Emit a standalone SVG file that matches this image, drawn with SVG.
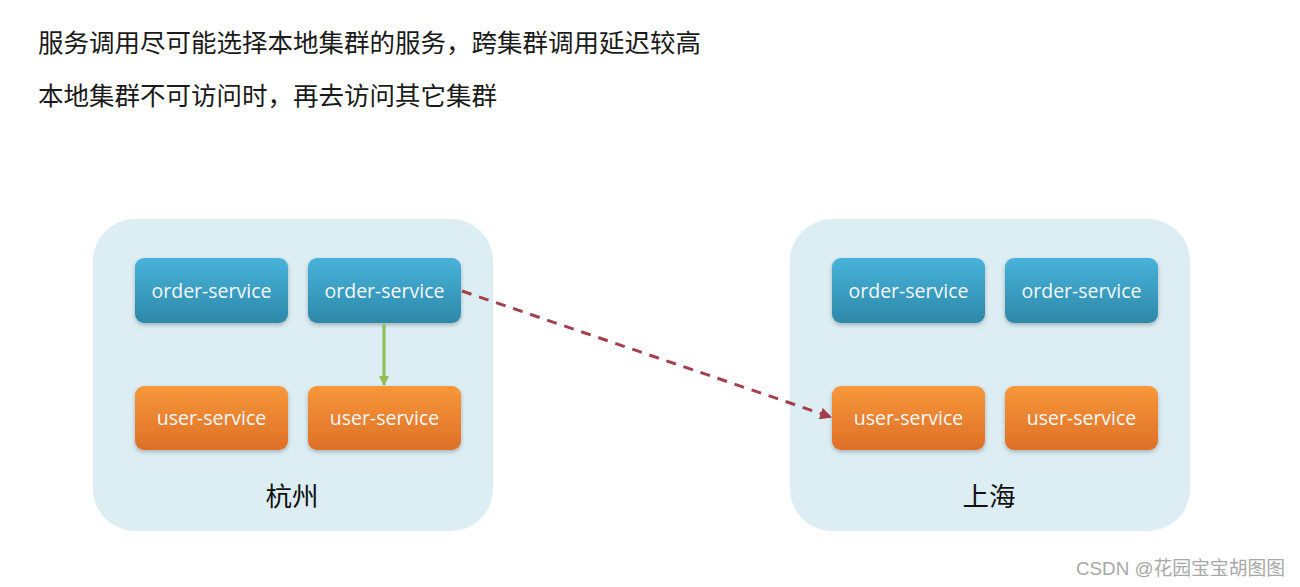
<svg xmlns="http://www.w3.org/2000/svg" width="1300" height="587" viewBox="0 0 1300 587">
<defs>
<style>
.title{font-family:"Liberation Sans","Noto Sans CJK SC",sans-serif;font-size:25.5px;fill:#1a1a1a}
.cluster{fill:#dcedf4}
.clabel{font-family:"Noto Sans CJK SC",sans-serif;font-size:26.5px;fill:#111;text-anchor:middle}
.ntext{font-family:"Open Sans","Noto Sans",sans-serif;font-size:19.5px;fill:#f4f8fa;text-anchor:middle;dominant-baseline:central}
.order{fill:url(#gBlue);filter:url(#sh)}
.user{fill:url(#gOrange);filter:url(#sh)}
.wm{font-family:"Liberation Sans","Noto Sans CJK SC",sans-serif;font-size:18.8px;fill:#a8a8a8}
</style>
<linearGradient id="gBlue" x1="0" y1="0" x2="0" y2="1">
<stop offset="0" stop-color="#48b3db"/>
<stop offset="1" stop-color="#2d88a8"/>
</linearGradient>
<linearGradient id="gOrange" x1="0" y1="0" x2="0" y2="1">
<stop offset="0" stop-color="#f8973a"/>
<stop offset="1" stop-color="#dd7027"/>
</linearGradient>
<filter id="sh" x="-10%" y="-10%" width="120%" height="130%">
<feDropShadow dx="0" dy="2" stdDeviation="2" flood-color="#000" flood-opacity="0.25"/>
</filter>
<marker id="arrG" viewBox="0 0 10 10" refX="9" refY="5" markerWidth="10" markerHeight="10" markerUnits="userSpaceOnUse" orient="auto">
<path d="M0,0 L10,5 L0,10 z" fill="#8fbf55"/>
</marker>
<marker id="arrR" viewBox="0 0 10 10" refX="9" refY="5" markerWidth="12" markerHeight="12" markerUnits="userSpaceOnUse" orient="auto">
<path d="M0,0 L10,5 L0,10 z" fill="#a3404c"/>
</marker>
</defs>
<rect width="1300" height="587" fill="#ffffff"/>
<text class="title" x="38" y="52">服务调用尽可能选择本地集群的服务，跨集群调用延迟较高</text>
<text class="title" x="38" y="105">本地集群不可访问时，再去访问其它集群</text>

<g id="cluster-hangzhou">
<rect class="cluster" x="93" y="219" width="400" height="312" rx="42"/>
<text class="clabel" x="292" y="506">杭州</text>
</g>
<g id="cluster-shanghai">
<rect class="cluster" x="790" y="219" width="400" height="312" rx="42"/>
<text class="clabel" x="989" y="506">上海</text>
</g>

<g id="hz-order-1"><rect class="order" x="135" y="258" width="153" height="65" rx="9"/><text class="ntext" x="211.5" y="290">order-service</text></g>
<g id="hz-order-2"><rect class="order" x="308" y="258" width="153" height="65" rx="9"/><text class="ntext" x="384.5" y="290">order-service</text></g>
<g id="hz-user-1"><rect class="user" x="135" y="386" width="153" height="64" rx="9"/><text class="ntext" x="211.5" y="417">user-service</text></g>
<g id="hz-user-2"><rect class="user" x="308" y="386" width="153" height="64" rx="9"/><text class="ntext" x="384.5" y="417">user-service</text></g>

<g id="sh-order-1"><rect class="order" x="832" y="258" width="153" height="65" rx="9"/><text class="ntext" x="908.5" y="290">order-service</text></g>
<g id="sh-order-2"><rect class="order" x="1005" y="258" width="153" height="65" rx="9"/><text class="ntext" x="1081.5" y="290">order-service</text></g>
<g id="sh-user-1"><rect class="user" x="832" y="386" width="153" height="64" rx="9"/><text class="ntext" x="908.5" y="417">user-service</text></g>
<g id="sh-user-2"><rect class="user" x="1005" y="386" width="153" height="64" rx="9"/><text class="ntext" x="1081.5" y="417">user-service</text></g>

<g id="connectors">
<line x1="384" y1="324" x2="384" y2="385" stroke="#8fbf55" stroke-width="3" marker-end="url(#arrG)"/>
<line x1="462" y1="291" x2="831" y2="417" stroke="#a3404c" stroke-width="3" stroke-dasharray="10,8" marker-end="url(#arrR)"/>
</g>

<text class="wm" x="1285" y="575" text-anchor="end">CSDN @花园宝宝胡图图</text>
</svg>
